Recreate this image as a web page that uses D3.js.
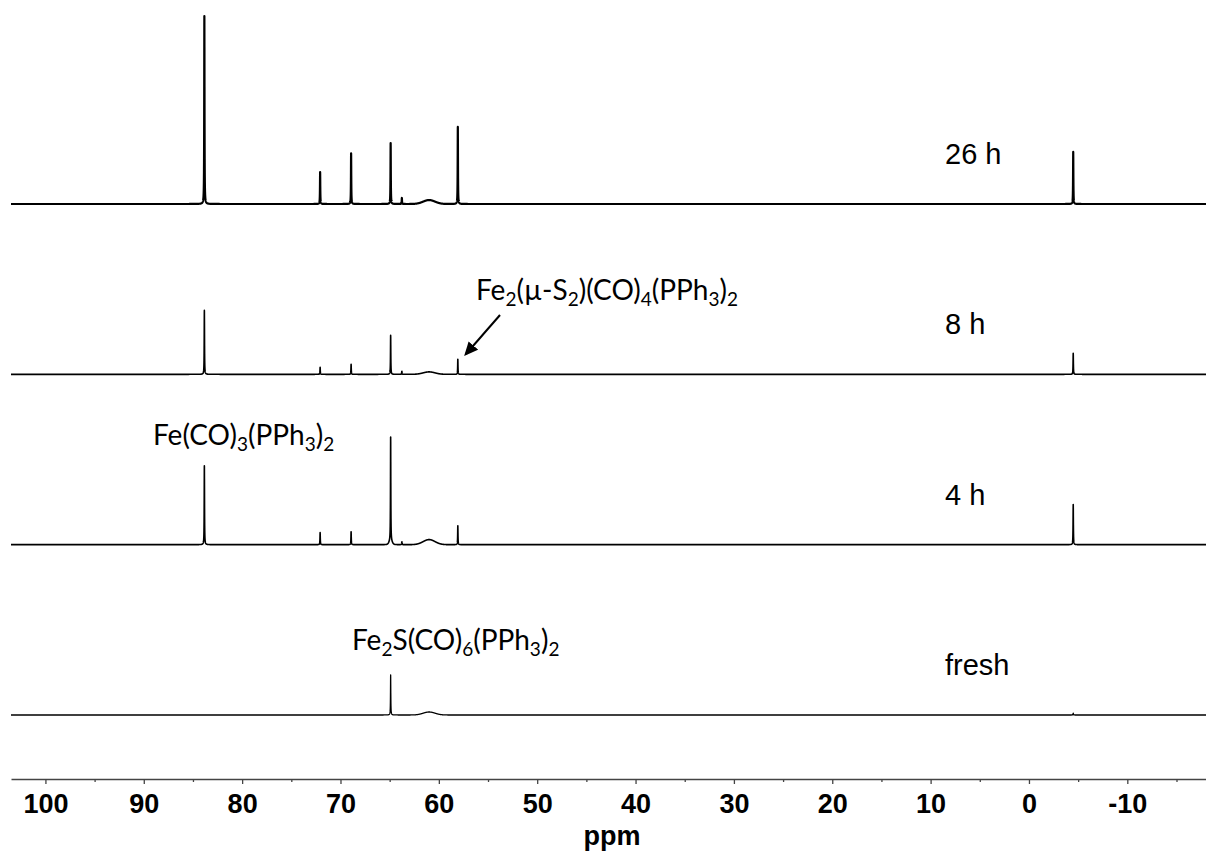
<!DOCTYPE html>
<html>
<head>
<meta charset="utf-8">
<script src="https://cdn.jsdelivr.net/npm/d3@7"></script>
<style>
  html, body { margin: 0; padding: 0; background: #fff; }
  svg { display: block; }
</style>
</head>
<body>
<svg id="chart" width="1206" height="857"></svg>
<script>
// ---------------- DATA ----------------
const spectra = ["26 h", "8 h", "4 h", "fresh"];
// sharp signal positions (ppm)
const peakShifts = [83.84, 72.07, 68.92, 64.90, 63.76, 58.07, -4.5];
// relative intensities (26 h main peak = 100)
const int26h   = [100, 17.0, 27.0, 32.4, 3.2, 41.0, 27.7];
const int8h    = [34.0, 3.7, 5.3, 20.7, 1.6, 8.0, 11.2];
const int4h    = [42.0, 6.4, 6.9, 55.3, 1.5, 10.1, 21.3];
const intFresh = [0, 0, 0, 21.3, 0, 0, 1.0];
// broad hump near 61 ppm
const humpShift = 60.99;
const humpInt = [2.1, 1.3, 2.7, 1.6];
const majorTicks = [100, 90, 80, 70, 60, 50, 40, 30, 20, 10, 0, -10];
const minorTicks = [95, 85, 75, 65, 55, 45, 35, 25, 15, 5, -5, -15];
const xLabel = "ppm";

// ---------------- LAYOUT ----------------
const svg = d3.select("#chart");
const x = d3.scaleLinear().domain([103.5, -18]).range([11, 1206]);
const base = d3.scalePoint().domain(spectra).range([204, 715]);
const amp = d3.scaleLinear().domain([0, 100]).range([0, 188]);
const intensities = [int26h, int8h, int4h, intFresh];
const strokeW = [2.2, 1.6, 1.6, 1.3];

const hw = 0.018;     // sharp-line half width (ppm)
const hSig = 0.6;     // hump width (ppm)
const step = 0.006;
const n = Math.round((103.5 + 18) / step);

function spectrumPoints(k) {
  const ints = intensities[k];
  const pts = [];
  const grid = [];
  for (let i = 0; i <= n; i++) grid.push(103.5 - i * step);
  peakShifts.forEach(p => grid.push(p));
  grid.sort((a, b) => b - a);
  for (const p of grid) {
    let v = 0;
    for (let j = 0; j < peakShifts.length; j++) {
      if (!ints[j]) continue;
      const d = p - peakShifts[j];
      v += ints[j] * hw * hw / (d * d + hw * hw);
    }
    const dh = p - humpShift;
    v += humpInt[k] * Math.exp(-dh * dh / (2 * hSig * hSig));
    // slight base broadening of the 64.9 ppm line in 4 h
    if (k === 2) {
      const d2 = p - peakShifts[3];
      v += 2.0 * Math.exp(-d2 * d2 / (2 * 0.15 * 0.15));
    }
    pts.push([p, v]);
  }
  return pts;
}

spectra.forEach((name, k) => {
  const b = base(name);
  const line = d3.line()
    .x(d => x(d[0]))
    .y(d => b - amp(d[1]));
  svg.append("path")
    .attr("d", line(spectrumPoints(k)))
    .attr("fill", "none")
    .attr("stroke", "#000")
    .attr("stroke-width", strokeW[k])
    .attr("stroke-linejoin", "round");
  svg.append("text")
    .attr("x", 945)
    .attr("y", b - 40)
    .attr("font-family", "Liberation Sans, Arial, sans-serif")
    .attr("font-size", 29)
    .attr("fill", "#000")
    .text(name);
});

// ---------------- AXIS ----------------
const axisY = 779;
const axis = d3.axisBottom(x)
  .tickValues(majorTicks)
  .tickSize(5)
  .tickSizeOuter(0)
  .tickPadding(10)
  .tickFormat(d => String(d));
const gAxis = svg.append("g").attr("transform", `translate(0,${axisY})`).call(axis);
gAxis.select(".domain").attr("stroke", "#444").attr("stroke-width", 1.5);
gAxis.selectAll(".tick line").attr("stroke", "#444").attr("stroke-width", 1.3);
gAxis.selectAll(".tick text")
  .attr("font-family", "Liberation Sans, Arial, sans-serif")
  .attr("font-weight", "bold")
  .attr("font-size", 27)
  .attr("fill", "#000");
const minorAxis = d3.axisBottom(x).tickValues(minorTicks).tickSize(3).tickSizeOuter(0).tickFormat("");
const gMinor = svg.append("g").attr("transform", `translate(0,${axisY})`).call(minorAxis);
gMinor.select(".domain").remove();
gMinor.selectAll(".tick line").attr("stroke", "#444").attr("stroke-width", 1.3);

svg.append("text")
  .attr("x", 612).attr("y", 845)
  .attr("text-anchor", "middle")
  .attr("font-family", "Liberation Sans, Arial, sans-serif")
  .attr("font-weight", "bold")
  .attr("font-size", 27)
  .text(xLabel);

// ---------------- ANNOTATIONS ----------------
function chemLabel(xp, yp, parts) {
  const t = svg.append("text")
    .attr("x", xp).attr("y", yp)
    .attr("font-family", "Lato, 'Open Sans', sans-serif")
    .attr("font-size", 28)
    .attr("fill", "#000");
  let prevSub = false;
  parts.forEach(([s, sub]) => {
    const ts = t.append("tspan").text(s);
    if (sub) { ts.attr("font-size", 19).attr("dy", prevSub ? 0 : 6); }
    else { ts.attr("dy", prevSub ? -6 : 0); }
    prevSub = !!sub;
  });
  return t;
}
chemLabel(153, 445, [["Fe(CO)"], ["3", 1], ["(PPh"], ["3", 1], [")"], ["2", 1]]);
chemLabel(476, 300, [["Fe"], ["2", 1], ["(\u00b5-S"], ["2", 1], [")(CO)"], ["4", 1], ["(PPh"], ["3", 1], [")"], ["2", 1]]);
chemLabel(352, 650, [["Fe"], ["2", 1], ["S(CO)"], ["6", 1], ["(PPh"], ["3", 1], [")"], ["2", 1]]);

// arrow
svg.append("defs").append("marker")
  .attr("id", "ah").attr("viewBox", "0 0 10 10")
  .attr("refX", 8).attr("refY", 5)
  .attr("markerWidth", 7).attr("markerHeight", 7)
  .attr("markerUnits", "strokeWidth")
  .attr("orient", "auto")
  .append("path").attr("d", "M0,0.5 L10,5 L0,9.5 Z").attr("fill", "#000");
svg.append("line")
  .attr("x1", 500).attr("y1", 315)
  .attr("x2", 466).attr("y2", 354)
  .attr("stroke", "#000").attr("stroke-width", 2)
  .attr("marker-end", "url(#ah)");
</script>
</body>
</html>
